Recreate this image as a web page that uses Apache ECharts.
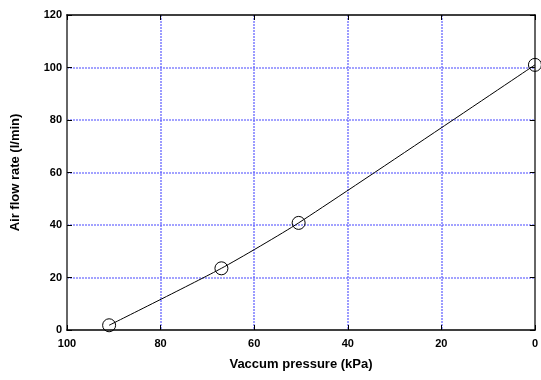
<!DOCTYPE html>
<html><head><meta charset="utf-8">
<script src="https://cdn.jsdelivr.net/npm/echarts@6/dist/echarts.min.js"></script>
<style>html,body{margin:0;padding:0;background:#fff}#c{width:541px;height:380px}</style>
</head><body><div id="c"></div>
<script>
var pressure = [91, 67, 50.5, 0];
var flow = [1.8, 23.5, 40.8, 101];
var xTicks = [0, 20, 40, 60, 80, 100];
var yTicks = [0, 20, 40, 60, 80, 100, 120];
var xTitle = 'Vaccum pressure (kPa)';
var yTitle = 'Air flow rate (l/min)';

var chart = echarts.init(document.getElementById('c'), null, {renderer: 'canvas'});
var font = 'Arial, "Liberation Sans", sans-serif';
function gridLine() {
  return {show: true, showMinLine: false, showMaxLine: false,
          lineStyle: {color: '#5a5aff', type: [2, 1], width: 1.6, opacity: 0.75}};
}
var tick = {show: true, inside: true, length: 5, lineStyle: {color: '#000'}};
var xRange = {type: 'value', inverse: true, min: xTicks[0], max: xTicks[xTicks.length - 1], interval: 20};
var yRange = {type: 'value', min: yTicks[0], max: yTicks[yTicks.length - 1], interval: 20};
chart.setOption({
  animation: false,
  backgroundColor: '#fff',
  grid: {left: 67, right: 2, top: 15, bottom: 50, show: false},
  xAxis: [Object.assign({}, xRange, {
    position: 'bottom',
    axisLine: {show: true, onZero: false, lineStyle: {color: '#000', width: 1.5}},
    axisTick: tick,
    axisLabel: {color: '#000', fontWeight: 'bold', fontSize: 11, fontFamily: font, margin: 8},
    splitLine: gridLine(),
    name: xTitle, nameLocation: 'middle', nameGap: 28,
    nameTextStyle: {color: '#000', fontWeight: 'bold', fontSize: 13, fontFamily: font}
  }), Object.assign({}, xRange, {
    position: 'top',
    axisLine: {show: true, onZero: false, lineStyle: {color: '#000', width: 1.5}},
    axisTick: tick, axisLabel: {show: false}, splitLine: {show: false}
  })],
  yAxis: [Object.assign({}, yRange, {
    position: 'left',
    axisLine: {show: true, onZero: false, lineStyle: {color: '#666', width: 2}},
    axisTick: tick,
    axisLabel: {color: '#000', fontWeight: 'bold', fontSize: 11, fontFamily: font, margin: 5},
    splitLine: gridLine(),
    name: yTitle, nameLocation: 'middle', nameGap: 45,
    nameTextStyle: {color: '#000', fontWeight: 'bold', fontSize: 13, fontFamily: font}
  }), Object.assign({}, yRange, {
    position: 'right',
    axisLine: {show: true, onZero: false, lineStyle: {color: '#666', width: 2}},
    axisTick: tick, axisLabel: {show: false}, splitLine: {show: false}
  })],
  series: [{
    type: 'line',
    xAxisIndex: 0, yAxisIndex: 0,
    data: pressure.map(function (p, i) { return [p, flow[i]]; }),
    smooth: 0.2,
    symbol: 'circle', symbolSize: 13,
    itemStyle: {color: 'rgba(255,255,255,0)', borderColor: '#000', borderWidth: 1},
    lineStyle: {color: '#000', width: 1},
    clip: false
  }]
});
</script></body></html>
